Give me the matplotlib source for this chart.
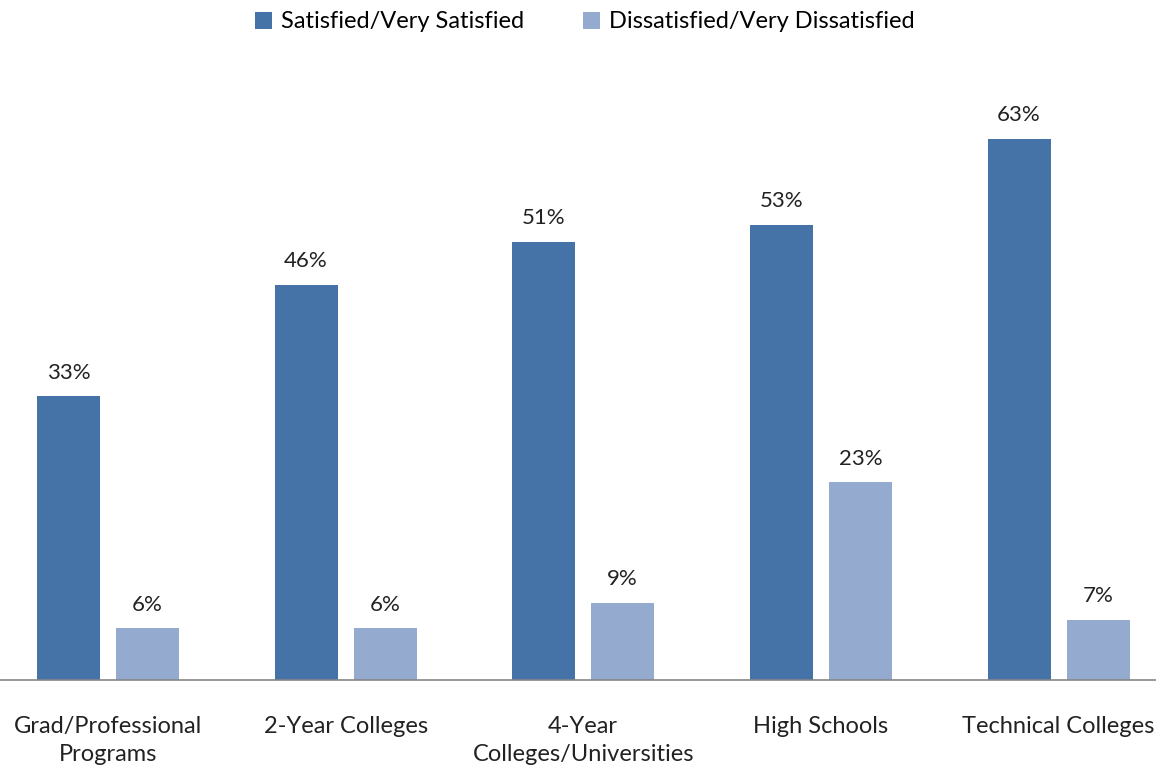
import matplotlib
matplotlib.use("Agg")
import matplotlib.pyplot as plt
import numpy as np

categories = ["Grad/Professional\nPrograms", "2-Year Colleges", "4-Year\nColleges/Universities",
              "High Schools", "Technical Colleges"]
satisfied = [33, 46, 51, 53, 63]
dissatisfied = [6, 6, 9, 23, 7]
series_names = ["Satisfied/Very Satisfied", "Dissatisfied/Very Dissatisfied"]

plt.rcParams['font.family'] = ['Lato', 'DejaVu Sans']

fig = plt.figure(figsize=(11.56, 7.67), dpi=100)
ax = fig.add_axes([0, 1 - 680/767, 1, (680 - 70)/767])

x = np.arange(len(categories))
w = 0.265
off = 0.166
c1, c2 = "#4573A7", "#94AACF"
b1 = ax.bar(x - off, satisfied, w, color=c1, label=series_names[0])
b2 = ax.bar(x + off, dissatisfied, w, color=c2, label=series_names[1])

for bars, vals in ((b1, satisfied), (b2, dissatisfied)):
    for b, v in zip(bars, vals):
        ax.text(b.get_x() + b.get_width()/2, v + 1.6, f"{v}%", ha="center", va="bottom",
                fontsize=16, color="#222222")

ax.set_xlim(-0.454, 4.41)
ax.set_ylim(0, 71.0)
ax.set_yticks([])
ax.set_xticks(x)
ax.set_xticklabels(categories, fontsize=17, color="#222222", linespacing=1.4)
ax.tick_params(axis="x", length=0, pad=26)
for s in ("top", "right", "left"):
    ax.spines[s].set_visible(False)
ax.spines["bottom"].set_color("#868686")
ax.spines["bottom"].set_linewidth(1.2)

fig.legend(handles=[b1, b2], loc="center", bbox_to_anchor=(0.506, 1 - 22/767), ncol=2,
           frameon=False, fontsize=17, handlelength=0.7, handleheight=0.7,
           handletextpad=0.4, columnspacing=2.5)

fig.savefig("out.png", dpi=100)
